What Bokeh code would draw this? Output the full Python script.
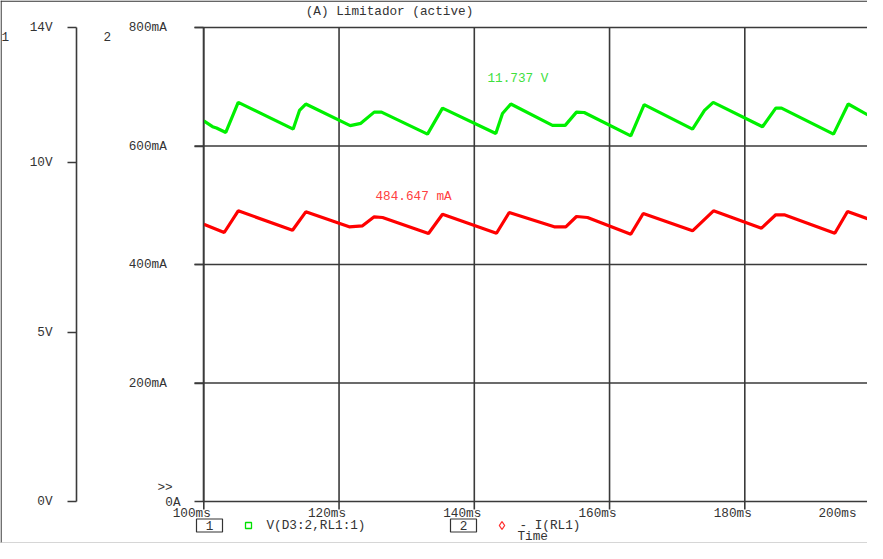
from bokeh.plotting import figure
from bokeh.models import Range1d, LinearAxis, FixedTicker, Label, LabelSet, ColumnDataSource, Span
from bokeh.core.properties import value
from bokeh.embed import file_html
from bokeh.resources import INLINE

# ---------------- data ----------------
# trace 1: V(D3:2,RL1:1)  [V]
t_v = [100.0, 101.29, 101.88, 103.25, 105.09, 113.22, 114.15, 115.08, 121.65, 123.22,
       125.20, 126.28, 133.08, 135.30, 143.18, 144.17, 145.40, 151.56, 153.44, 155.11,
       156.25, 163.14, 165.12, 172.27, 174.04, 175.33, 182.62, 184.58, 185.43, 193.12,
       195.29, 199.33]
v_d3 = [11.24, 11.07, 11.03, 10.90, 11.79, 11.00, 11.55, 11.74, 11.10, 11.17,
        11.50, 11.50, 10.85, 11.62, 10.87, 11.46, 11.74, 11.11, 11.11, 11.50,
        11.49, 10.80, 11.72, 11.00, 11.55, 11.79, 11.07, 11.62, 11.62, 10.85,
        11.74, 11.29]

# trace 2: - I(RL1)  [mA]
t_i = [100.0, 103.02, 105.09, 113.12, 115.08, 121.50, 123.47, 125.20, 126.43, 133.23,
       135.30, 143.28, 145.16, 151.82, 153.53, 155.11, 156.74, 163.14, 164.98, 172.27,
       175.37, 182.47, 184.58, 185.83, 193.31, 195.19, 199.33]
i_rl1 = [468.0, 454.0, 490.6, 457.9, 488.9, 463.6, 465.3, 480.5, 479.3, 452.3,
         484.9, 452.8, 487.8, 463.6, 463.6, 481.0, 479.3, 451.1, 486.1, 456.9,
         490.6, 461.3, 483.9, 483.9, 452.8, 489.5, 472.6]

x_ticks = [100, 120, 140, 160, 180, 200]
x_tick_labels = ["100ms", "120ms", "140ms", "160ms", "180ms", "200ms"]
i_ticks = [200, 400, 600, 800]
i_tick_labels = ["200mA", "400mA", "600mA", "800mA"]
grid_i = [0, 200, 400, 600, 800]
v_ticks = [0, 5, 10, 14]
v_tick_labels = ["0V", "5V", "10V", "14V"]

title_text = "(A) Limitador (active)"
cursor_v_text = "11.737 V"
cursor_i_text = "484.647 mA"
legend_v_text = "V(D3:2,RL1:1)"
legend_i_text = "- I(RL1)"

# ---------------- layout helpers (page pixel -> data) ----------------
PX_PER_MS = 6.7625
X100 = 211.3
PX_PER_MA = 0.5925
Y0 = 509.0
V_PER_MA = 14.0 / 800.0


def t_at(px):
    return 100.0 + (px - X100) / PX_PER_MS


def ma_at(py):
    return (Y0 - py) / PX_PER_MA


W, H = 867, 543
X_L, X_R = t_at(8), t_at(8 + W)
Y_B, Y_T = ma_at(8 + H), ma_at(8)

FONT = "Liberation Mono"
FS = "12.7px"
DARK = "#333333"
LINE = "#3a3a3a"

p = figure(width=W, height=H, x_range=Range1d(X_L, X_R), y_range=Range1d(Y_B, Y_T),
           output_backend="svg", toolbar_location=None,
           x_axis_location=None, y_axis_location=None, min_border=0,
           background_fill_color="white", border_fill_color="white",
           outline_line_color=None)
p.grid.visible = False
p.extra_y_ranges = {"volt": Range1d(Y_B * V_PER_MA, Y_T * V_PER_MA)}

# window frame
p.add_layout(Span(location=t_at(8.6), dimension="height", line_color=DARK, line_width=1.2))
p.add_layout(Span(location=ma_at(8.6), dimension="width", line_color=DARK, line_width=1.2))
p.add_layout(Span(location=ma_at(550.4), dimension="width", line_color="#c8c8c8", line_width=1.2))

# grid lines (vertical ones also act as x ticks below the 0A line)
p.segment(x0=x_ticks[:-1], x1=x_ticks[:-1], y0=ma_at(517), y1=800,
          line_color=LINE, line_width=1.6)
p.segment(x0=t_at(202), x1=X_R, y0=grid_i, y1=grid_i, line_color=LINE, line_width=1.6)

# axis 1 (volts)
v_axis = LinearAxis(y_range_name="volt", fixed_location=t_at(84),
                    ticker=FixedTicker(ticks=v_ticks),
                    major_label_overrides={k: s for k, s in zip(v_ticks, v_tick_labels)},
                    bounds=(0, 14))
# axis 2 (mA)
i_axis = LinearAxis(fixed_location=100, ticker=FixedTicker(ticks=i_ticks),
                    major_label_overrides={k: s for k, s in zip(i_ticks, i_tick_labels)},
                    bounds=(0, 800))
for ax, standoff in ((v_axis, 15), (i_axis, 28)):
    ax.axis_line_color = LINE
    ax.axis_line_width = 1.6
    ax.major_tick_line_color = LINE
    ax.major_tick_line_width = 1.6
    ax.major_tick_out = 9
    ax.major_tick_in = 0
    ax.minor_tick_out = 0
    ax.minor_tick_in = 0
    ax.major_label_standoff = standoff
    ax.major_label_text_font = FONT
    ax.major_label_text_font_size = FS
    ax.major_label_text_color = DARK
    p.add_layout(ax, "left")

# x tick labels
xsrc = ColumnDataSource(dict(x=x_ticks[:-1], text=x_tick_labels[:-1]))
p.add_layout(LabelSet(source=xsrc, x="x", y=ma_at(521), text="text", text_align="right",
                      text_baseline="middle", x_offset=7,
                      text_font=value(FONT), text_font_size=value(FS), text_color=DARK))
p.add_layout(Label(x=x_ticks[-1], y=ma_at(521), text=x_tick_labels[-1], text_align="right",
                   text_baseline="middle", x_offset=-23.5,
                   text_font=FONT, text_font_size=FS, text_color=DARK))

# traces
p.line(t_v, v_d3, y_range_name="volt", line_color="#00f000", line_width=3.2)
p.line(t_i, i_rl1, line_color="#ff0000", line_width=3.2)


def lab(text, px, py, align="left", color=DARK):
    p.add_layout(Label(x=t_at(px), y=ma_at(py), text=text, text_align=align,
                       text_baseline="middle", text_font=FONT, text_font_size=FS,
                       text_color=color))


lab(title_text, 397, 19, "center")
lab("1", 9, 44)
lab("2", 111, 44)
lab("0A", 188, 510, "right")
lab(">>", 165, 495)
lab(cursor_v_text, 495, 86, color="#3ee03e")
lab(cursor_i_text, 383, 204, color="#ff4040")

# legend row
LEG_Y = 533
p.rect(x=[t_at(217), t_at(471)], y=ma_at(LEG_Y), width=26, height=13,
       width_units="screen", height_units="screen", fill_color=None,
       line_color=DARK, line_width=1.2)
lab("1", 217, LEG_Y, "center")
lab("2", 471, LEG_Y, "center")
p.scatter(x=t_at(256), y=ma_at(LEG_Y), marker="square", size=6, fill_color=None,
          line_color="#00e000", line_width=1.3)
p.scatter(x=t_at(509.5), y=ma_at(LEG_Y), marker="diamond", size=8, fill_color=None,
          line_color="#ff3030", line_width=1.3)
lab(legend_v_text, 274, LEG_Y)
lab(legend_i_text, 527, LEG_Y)
lab("Time", 525, 544)

open("out.html", "w").write(file_html(p, INLINE))
